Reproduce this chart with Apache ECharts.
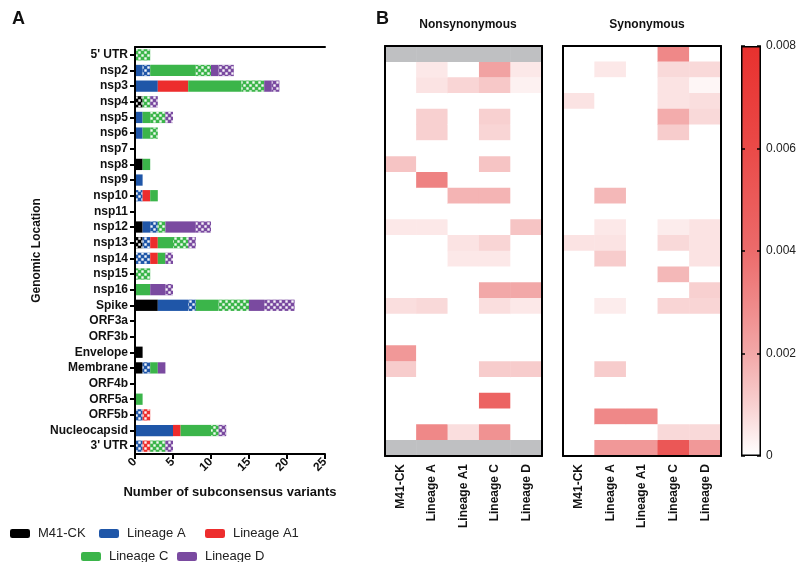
<!DOCTYPE html>
<html>
<head>
<meta charset="utf-8">
<script src="https://cdn.jsdelivr.net/npm/echarts@6/dist/echarts.min.js"></script>
<style>
html,body{margin:0;padding:0;background:#fff;}
#chart{width:800px;height:562px;}
</style>
</head>
<body>
<div id="chart"></div>
<script>
// ---------- DATA ----------
const genes = ["5' UTR","nsp2","nsp3","nsp4","nsp5","nsp6","nsp7","nsp8","nsp9","nsp10","nsp11","nsp12","nsp13","nsp14","nsp15","nsp16","Spike","ORF3a","ORF3b","Envelope","Membrane","ORF4b","ORF5a","ORF5b","Nucleocapsid","3' UTR"];
const lineages = ["M41-CK","Lineage A","Lineage A1","Lineage C","Lineage D"];
const xTicks = [0,5,10,15,20,25];
const colorbarTicks = [0,0.002,0.004,0.006,0.008];

// Panel A: number of subconsensus variants (solid = nonsynonymous, checkered = synonymous / UTR)
const m41Nonsyn = [0,0,0,0,0,0,0,1,0,0,0,1,0,0,0,0,3,0,0,1,1,0,0,0,0,0];
const m41Syn    = [0,0,0,1,0,0,0,0,0,0,0,0,1,0,0,0,0,0,0,0,0,0,0,0,0,0];
const aNonsyn   = [0,1,3,0,1,1,0,0,1,0,0,1,0,0,0,0,4,0,0,0,0,0,0,0,5,0];
const aSyn      = [0,1,0,0,0,0,0,0,0,1,0,1,1,2,0,0,1,0,0,0,1,0,0,1,0,1];
const a1Nonsyn  = [0,0,4,0,0,0,0,0,0,1,0,0,1,1,0,0,0,0,0,0,0,0,0,0,1,0];
const a1Syn     = [0,0,0,0,0,0,0,0,0,0,0,0,0,0,0,0,0,0,0,0,0,0,0,1,0,1];
const cNonsyn   = [0,6,7,0,1,1,0,1,0,1,0,0,2,1,0,2,3,0,0,0,1,0,1,0,4,0];
const cSyn      = [2,2,3,1,2,1,0,0,0,0,0,1,2,0,2,0,4,0,0,0,0,0,0,0,1,2];
const dNonsyn   = [0,1,1,0,0,0,0,0,0,0,0,4,0,0,0,2,2,0,0,0,1,0,0,0,0,0];
const dSyn      = [0,2,1,1,1,0,0,0,0,0,0,2,1,1,0,1,4,0,0,0,0,0,0,0,1,1];

// Panel B: frequencies (null = not applicable, grey)
const hmNonsynM41 = [null,0,0,0,0,0,0,0.0013,0,0,0,0.0005,0,0,0,0,0.0007,0,0,0.0025,0.0011,0,0,0,0,null];
const hmNonsynA   = [null,0.0005,0.0006,0,0.001,0.001,0,0,0.0032,0,0,0.0005,0,0,0,0,0.0008,0,0,0,0,0,0,0,0.003,null];
const hmNonsynA1  = [null,0,0.0009,0,0,0,0,0,0,0.0017,0,0,0.0006,0.0005,0,0,0,0,0,0,0,0,0,0,0.0007,null];
const hmNonsynC   = [null,0.0022,0.0012,0,0.001,0.0009,0,0.0013,0,0.0017,0,0,0.0009,0.0005,0,0.002,0.0007,0,0,0,0.0011,0,0.0045,0,0.0027,null];
const hmNonsynD   = [null,0.0005,0.0003,0,0,0,0,0,0,0,0,0.0013,0,0,0,0.002,0.0005,0,0,0,0.0011,0,0,0,0,null];

const hmSynM41 = [0,0,0,0.0006,0,0,0,0,0,0,0,0,0.0006,0,0,0,0,0,0,0,0,0,0,0,0,0];
const hmSynA   = [0,0.0005,0,0,0,0,0,0,0,0.0016,0,0.0005,0.0006,0.0011,0,0,0.0004,0,0,0,0.0011,0,0,0.003,0,0.0025];
const hmSynA1  = [0,0,0,0,0,0,0,0,0,0,0,0,0,0,0,0,0,0,0,0,0,0,0,0.003,0,0.0025];
const hmSynC   = [0.003,0.0008,0.0006,0.0006,0.0019,0.0011,0,0,0,0,0,0.0004,0.0008,0,0.0016,0,0.0009,0,0,0,0,0,0,0,0.0008,0.0052];
const hmSynD   = [0,0.0008,0.0002,0.0007,0.0008,0,0,0,0,0,0,0.0006,0.0006,0.0006,0,0.001,0.0009,0,0,0,0,0,0,0,0.0008,0.0025];

const scaleMin = 0, scaleMax = 0.008;

// ---------- STYLE ----------
const FONT = "'Liberation Sans', Arial, sans-serif";
const lineageColors = ['#000000','#1f56a8','#ed2d2d','#3bb54a','#7a4aa0'];
const colorScale = ['#ffffff','#f8d0d0','#f2a8a8','#ef8888','#ec6b6b','#eb5a59','#ea4a48','#e93d3b','#e8312e'];
const naColor = '#bfc0c2';

const nonsynCounts = [m41Nonsyn,aNonsyn,a1Nonsyn,cNonsyn,dNonsyn];
const synCounts = [m41Syn,aSyn,a1Syn,cSyn,dSyn];
const hmNonsyn = [hmNonsynM41,hmNonsynA,hmNonsynA1,hmNonsynC,hmNonsynD];
const hmSyn = [hmSynM41,hmSynA,hmSynA1,hmSynC,hmSynD];

const chart = echarts.init(document.getElementById('chart'), null, {renderer:'canvas'});

const checker = {symbol:'rect', symbolSize:0.8, color:'rgba(255,255,255,0.95)', dashArrayX:[[3,3],[0,3,3,0]], dashArrayY:[3,0], rotation:0};

const series = [];
lineages.forEach((name,i)=>{
  series.push({name:name, type:'bar', stack:'v', xAxisIndex:0, yAxisIndex:0, barWidth:'72%',
    data: nonsynCounts[i], itemStyle:{color:lineageColors[i]}});
  series.push({name:name+' syn', type:'bar', stack:'v', xAxisIndex:0, yAxisIndex:0, barWidth:'72%',
    data: synCounts[i], itemStyle:{color:lineageColors[i], decal:checker}});
});

function toCells(mat){
  const out=[];
  mat.forEach((col,c)=>col.forEach((v,r)=>{ if(v!==null) out.push([c,r,v]); }));
  return out;
}
function naCells(mat){
  const out=[];
  mat.forEach((col,c)=>col.forEach((v,r)=>{ if(v===null) out.push([c,r,1]); }));
  return out;
}
const idxNonsyn = series.length;
series.push({type:'heatmap', xAxisIndex:2, yAxisIndex:1, data:toCells(hmNonsyn), silent:true});
series.push({type:'heatmap', xAxisIndex:2, yAxisIndex:1, data:naCells(hmNonsyn), itemStyle:{color:naColor}, silent:true});
const idxSyn = series.length;
series.push({type:'heatmap', xAxisIndex:4, yAxisIndex:3, data:toCells(hmSyn), silent:true});
// colour bar
series.push({type:'bar', xAxisIndex:6, yAxisIndex:5, barWidth:'100%', data:[scaleMax], silent:true,
  itemStyle:{borderColor:'#000', borderWidth:1.5,
    color:new echarts.graphic.LinearGradient(0,1,0,0, colorScale.map((c,k)=>({offset:k/(colorScale.length-1), color:c})))}});

const boldLbl = {fontFamily:FONT, fontWeight:'bold', fontSize:12, color:'#111'};

const legendPos = [[5,522],[94,522],[200,522],[76,545],[172,545]];
const legends = lineages.map((n,i)=>({data:[n], left:legendPos[i][0], top:legendPos[i][1], icon:'roundRect',
  itemWidth:20, itemHeight:9, itemGap:0, selectedMode:false,
  textStyle:{fontFamily:FONT, fontSize:13, color:'#222', padding:[0,0,0,3]}}));

const frameAxis = (type, pos, grid, data)=>({type:type, gridIndex:grid, position:pos, data:data, z:5,
  axisLine:{show:true, lineStyle:{color:'#000', width:2}}, axisTick:{show:false}, axisLabel:{show:false}, splitLine:{show:false}});

const option = {
  animation:false,
  backgroundColor:'#fff',
  title:[
    {text:'A', left:7, top:5, textStyle:{fontFamily:FONT, fontWeight:'bold', fontSize:18, color:'#111'}},
    {text:'B', left:371, top:5, textStyle:{fontFamily:FONT, fontWeight:'bold', fontSize:18, color:'#111'}},
    {text:'Nonsynonymous', left:463, top:14, textAlign:'center', textStyle:{fontFamily:FONT, fontWeight:'bold', fontSize:12, color:'#111'}},
    {text:'Synonymous', left:642, top:14, textAlign:'center', textStyle:{fontFamily:FONT, fontWeight:'bold', fontSize:12, color:'#111'}}
  ],
  legend:legends,
  grid:[
    {left:135, top:47, width:190, height:407},
    {left:385, top:46, width:157, height:410},
    {left:563, top:46, width:158, height:410},
    {left:741, top:46, width:20, height:410}
  ],
  xAxis:[
    {type:'value', gridIndex:0, min:xTicks[0], max:xTicks[xTicks.length-1], interval:xTicks[1]-xTicks[0], position:'bottom', z:5,
      axisLine:{show:true, lineStyle:{color:'#000', width:2}}, axisTick:{show:true, length:5, lineStyle:{color:'#000', width:2}},
      splitLine:{show:false}, axisLabel:Object.assign({rotate:45, margin:6}, boldLbl),
      name:'Number of subconsensus variants', nameLocation:'middle', nameGap:32,
      nameTextStyle:{fontFamily:FONT, fontWeight:'bold', fontSize:13, color:'#111'}},
    {type:'value', gridIndex:0, min:xTicks[0], max:xTicks[xTicks.length-1], position:'top', z:5,
      axisLine:{show:true, lineStyle:{color:'#000', width:2}}, axisTick:{show:false}, axisLabel:{show:false}, splitLine:{show:false}},
    {type:'category', gridIndex:1, data:lineages, position:'bottom', z:5,
      axisLine:{show:true, lineStyle:{color:'#000', width:2}}, axisTick:{show:false},
      axisLabel:Object.assign({rotate:90, margin:8, interval:0}, boldLbl)},
    frameAxis('category','top',1,lineages),
    {type:'category', gridIndex:2, data:lineages, position:'bottom', z:5,
      axisLine:{show:true, lineStyle:{color:'#000', width:2}}, axisTick:{show:false},
      axisLabel:Object.assign({rotate:90, margin:8, interval:0}, boldLbl)},
    frameAxis('category','top',2,lineages),
    {type:'category', gridIndex:3, data:['scale'], show:false}
  ],
  yAxis:[
    {type:'category', gridIndex:0, data:genes, inverse:true, z:5,
      axisLine:{show:true, lineStyle:{color:'#000', width:2}},
      axisTick:{show:true, alignWithLabel:true, length:5, lineStyle:{color:'#000', width:2}},
      axisLabel:Object.assign({margin:7, interval:0}, boldLbl),
      name:'Genomic Location', nameLocation:'middle', nameGap:92, nameRotate:90,
      nameTextStyle:{fontFamily:FONT, fontWeight:'bold', fontSize:12, color:'#111'}},
    Object.assign(frameAxis('category','left',1,genes),{inverse:true}),
    Object.assign(frameAxis('category','right',1,genes),{inverse:true}),
    Object.assign(frameAxis('category','left',2,genes),{inverse:true}),
    Object.assign(frameAxis('category','right',2,genes),{inverse:true}),
    {type:'value', gridIndex:3, position:'right', min:colorbarTicks[0], max:colorbarTicks[colorbarTicks.length-1],
      interval:colorbarTicks[1]-colorbarTicks[0], z:5,
      axisLine:{show:false}, splitLine:{show:false},
      axisTick:{show:true, inside:true, length:4, lineStyle:{color:'#000', width:1.5}},
      axisLabel:{fontFamily:FONT, fontSize:12, color:'#222', margin:5, formatter:v=>v===0?'0':v.toFixed(3)}},
    {type:'value', gridIndex:3, position:'left', min:colorbarTicks[0], max:colorbarTicks[colorbarTicks.length-1],
      interval:colorbarTicks[1]-colorbarTicks[0], z:5,
      axisLine:{show:false}, splitLine:{show:false}, axisLabel:{show:false},
      axisTick:{show:true, inside:true, length:4, lineStyle:{color:'#000', width:1.5}}}
  ],
  visualMap:{type:'continuous', show:false, min:scaleMin, max:scaleMax, dimension:2,
    seriesIndex:[idxNonsyn, idxSyn], inRange:{color:colorScale}},
  series:series
};
chart.setOption(option);
</script>
</body>
</html>
